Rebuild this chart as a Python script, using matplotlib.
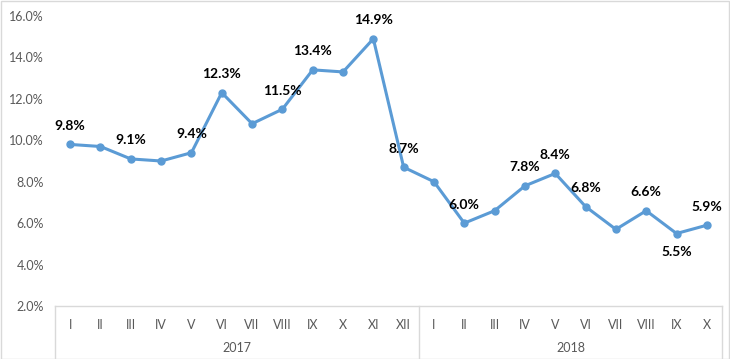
import matplotlib
matplotlib.use("Agg")
import matplotlib.pyplot as plt
from matplotlib.patches import Rectangle

months = ["I", "II", "III", "IV", "V", "VI", "VII", "VIII", "IX", "X", "XI", "XII",
          "I", "II", "III", "IV", "V", "VI", "VII", "VIII", "IX", "X"]
years = ["2017", "2018"]
year_counts = [12, 10]
values = [9.8, 9.7, 9.1, 9.0, 9.4, 12.3, 10.8, 11.5, 13.4, 13.3, 14.9, 8.7,
          8.0, 6.0, 6.6, 7.8, 8.4, 6.8, 5.7, 6.6, 5.5, 5.9]
# which points carry a label: 1 = above, -1 = below, 0 = none
label_pos = [1, 0, 1, 0, 1, 1, 0, 1, 1, 0, 1, 1,
             0, 1, 0, 1, 1, 1, 0, 1, -1, 1]

LINE_COLOR = "#5B9BD5"
TEXT_COLOR = "#595959"
AXIS_COLOR = "#D9D9D9"

plt.rcParams["font.family"] = ["Lato", "DejaVu Sans"]

fig = plt.figure(figsize=(7.3, 3.59), dpi=100)
ax = fig.add_axes([55 / 730, 1 - 306 / 359, 667 / 730, 290 / 359])

x = list(range(len(values)))
ax.plot(x, values, color=LINE_COLOR, linewidth=2.2, marker="o", markersize=5, zorder=3)

for i, (v, p) in enumerate(zip(values, label_pos)):
    if p == 0:
        continue
    ax.annotate(f"{v:.1f}%", (i, v), xytext=(0, 9 * p), textcoords="offset points",
                ha="center", va="bottom" if p > 0 else "top",
                fontsize=10, fontweight="bold", color="black")

ax.set_xlim(-0.5, len(values) - 0.5)
ax.set_ylim(2, 16)
ax.set_yticks([2, 4, 6, 8, 10, 12, 14, 16])
ax.set_yticklabels([f"{t:.1f}%" for t in ax.get_yticks()])
ax.tick_params(axis="y", length=0, pad=8, labelsize=9, labelcolor=TEXT_COLOR)
ax.set_xticks([])

for s in ["left", "right", "top"]:
    ax.spines[s].set_visible(False)
ax.spines["bottom"].set_color(AXIS_COLOR)
ax.spines["bottom"].set_linewidth(1)

# multi-level category axis
trans = ax.get_xaxis_transform()
low = -53 / 290
for i, m in enumerate(months):
    ax.text(i, -19 / 290, m, transform=trans, ha="center", va="center",
            fontsize=9, color=TEXT_COLOR)
start = 0
bounds = [-0.5]
for y, n in zip(years, year_counts):
    ax.text(start + (n - 1) / 2, -42 / 290, y, transform=trans, ha="center", va="center",
            fontsize=9, color=TEXT_COLOR)
    start += n
    bounds.append(start - 0.5)
for b in bounds:
    ax.plot([b, b], [0, low], transform=trans, color=AXIS_COLOR, linewidth=1, clip_on=False)

fig.patches.append(Rectangle((0.001, 0.001), 0.998, 0.997, transform=fig.transFigure,
                             fill=False, edgecolor=AXIS_COLOR, linewidth=1))

fig.savefig("out.png", dpi=100)
